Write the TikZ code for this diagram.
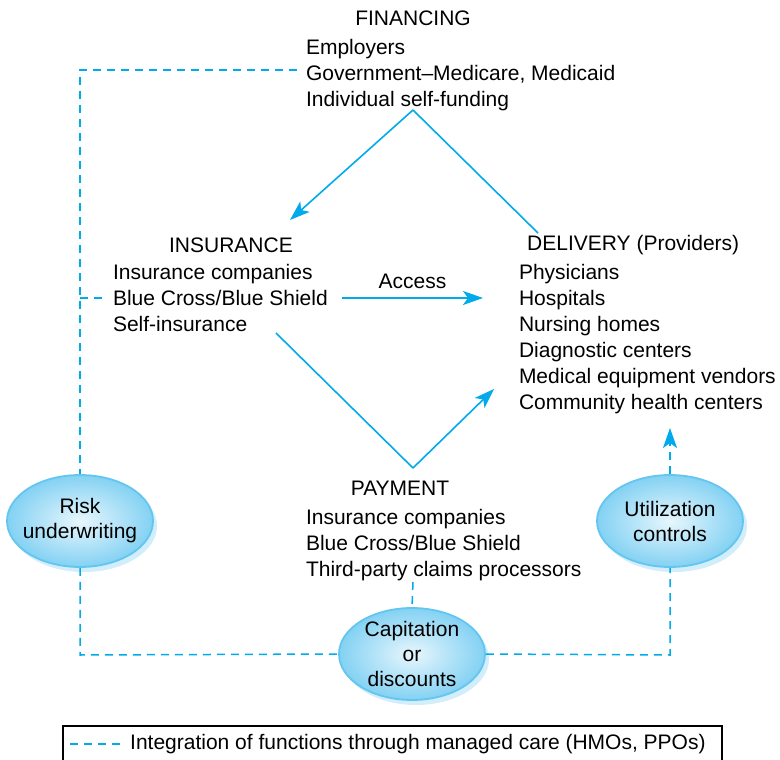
\documentclass[tikz,border=0pt]{standalone}
\usepackage{fontspec}
\setmainfont{Liberation Sans}
\usetikzlibrary{shapes.geometric,shadows,arrows.meta}
\definecolor{flow}{RGB}{0,170,235}
\definecolor{bubble}{RGB}{100,198,240}
\tikzset{
  txt/.style = {inner sep=0pt, outer sep=0pt, align=left, anchor=north west,
                font=\fontsize{21}{26}\selectfont},
  head/.style = {inner sep=0pt, font=\fontsize{21}{24}\selectfont},
  link/.style = {draw=flow, line width=1.6pt},
  tip/.style = {-{Stealth[length=20pt,width=14pt,inset=5pt]}},
  mc/.style = {draw=flow, line width=1.5pt, dash pattern=on 8pt off 6pt},
  blob/.style = {ellipse, draw=bubble, line width=1.8pt, minimum width=146pt,
                 minimum height=92pt, inner xsep=-16pt, inner ysep=-8pt,
                 align=center,
                 inner color=white!85!bubble, outer color=bubble!80!white,
                 drop shadow={shadow xshift=4pt, shadow yshift=-5pt,
                              fill=bubble!30!white, opacity=1},
                 font=\fontsize{21}{25}\selectfont}
}
\begin{document}
\begin{tikzpicture}[x=1pt,y=-1pt]
	\useasboundingbox (0,0) rectangle (780,760);

	% Financing
	\node[head] (fin) at (413,18) {FINANCING};
	\node[txt] (finl) at (306,39) {Employers\\Government--Medicare, Medicaid\\Individual self-funding};

	% Insurance
	\node[head] (ins) at (231,245) {INSURANCE};
	\node[txt] (insl) at (113,264) {Insurance companies\\Blue Cross/Blue Shield\\Self-insurance};

	% Delivery
	\node[head, anchor=west] (del) at (527,245) {DELIVERY (Providers)};
	\node[txt] (dell) at (519,264) {Physicians\\Hospitals\\Nursing homes\\Diagnostic centers\\Medical equipment vendors\\Community health centers};

	% Payment
	\node[head] (pay) at (400,488) {PAYMENT};
	\node[txt] (payl) at (306,509) {Insurance companies\\Blue Cross/Blue Shield\\Third-party claims processors};

	% Bubbles
	\node[blob] (risk) at (80,521) {Risk\\underwriting};
	\node[blob] (util) at (670,521) {Utilization\\controls};
	\node[blob] (cap) at (412,654) {Capitation\\or\\discounts};

	% Points of the solid links
	\coordinate (top) at (413,110);
	\coordinate (insin) at (290,220);
	\coordinate (delout) at (538,233);
	\coordinate (insout) at (276,333);
	\coordinate (bot) at (413,468);
	\coordinate (delin) at (494,389);
	\coordinate (accfrom) at (342,298);
	\coordinate (accto) at (483,298);

	\draw[link, tip] (top) -- (insin);
	\draw[link] (top) -- (delout);
	\draw[link] (insout) -- (bot);
	\draw[link, tip] (bot) -- (delin);
	\draw[link, tip] (accfrom) -- node[head, above=8pt] (acc) {Access} (accto);

	% Managed care (dashed)
	\coordinate (fincor) at (80,70);
	\coordinate (finend) at (297,70);
	\coordinate (insleft) at (80,298);
	\coordinate (insend) at (106,298);
	\coordinate (lowleft) at (80,655);
	\coordinate (lowright) at (670,655);
	\coordinate (payend) at (413,582);
	\coordinate (utilto) at (670,428);

	\draw[mc] (finend) -- (fincor) -- (risk.north);
	\draw[mc] (insleft) -- (insend);
	\draw[mc] (risk.south) -- (lowleft) -- (cap.west);
	\draw[mc] (payend) -- (cap.north);
	\draw[mc] (cap.east) -- (lowright) -- (util.south);
	\draw[mc, tip] (util.north) -- (utilto);

	% Legend
	\node[draw=black, line width=1.4pt, minimum width=659pt, minimum height=38pt,
	      inner sep=0pt] (leg) at (392.5,745) {};
	\coordinate (lega) at (70,744);
	\coordinate (legb) at (124,744);
	\draw[mc] (lega) -- (legb);
	\node[head, anchor=west] (legt) at (130,744) {Integration of functions through managed care (HMOs, PPOs)};
\end{tikzpicture}
\end{document}
